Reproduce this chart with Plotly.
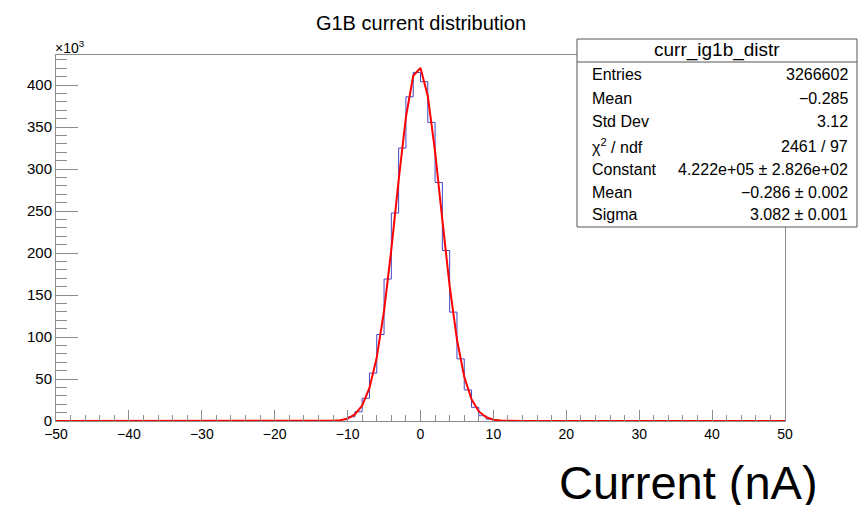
import plotly.graph_objects as go
import numpy as np

# ---- data (counts in units of 10^3, bin width 1 nA) ----
bin_low_edges = [-12, -11, -10, -9, -8, -7, -6, -5, -4, -3, -2, -1,
                 0, 1, 2, 3, 4, 5, 6, 7, 8, 9, 10, 11]
counts_k = [0.3, 1.5, 5.0, 11.0, 27.0, 57.0, 103.0, 169.0, 247.6, 325.0, 386.0, 415.0,
            404.0, 355.5, 284.0, 203.0, 129.6, 74.0, 37.0, 16.3, 6.3, 2.2, 0.6, 0.15]

hist_range = [-50, 50]
stat_labels = ["Entries", "Mean", "Std Dev", "χ<sup>2</sup> / ndf", "Constant", "Mean", "Sigma"]
stat_values = ["3266602", "−0.285", "3.12", "2461 / 97",
               "4.222e+05 ± 2.826e+02", "−0.286 ± 0.002", "3.082 ± 0.001"]
fit_constant = 4.222e+05
fit_mean = -0.286
fit_sigma = 3.082

# ---- build full histogram over range ----
edges = np.arange(hist_range[0], hist_range[1] + 1, 1)
full = np.zeros(len(edges) - 1)
for lo, c in zip(bin_low_edges, counts_k):
    full[int(lo - hist_range[0])] = c
hx = list(edges)
hy = list(full) + [full[-1]]

# fit function sampled like ROOT (npx=100)
fx = np.linspace(hist_range[0], hist_range[1], 101)
fy = fit_constant * np.exp(-0.5 * ((fx - fit_mean) / fit_sigma) ** 2) / 1e3

fig = go.Figure()
fig.add_trace(go.Scatter(x=hx, y=hy, mode="lines", line=dict(color="#4646c4", width=1, shape="hv"),
                         hoverinfo="skip"))
fig.add_trace(go.Scatter(x=fx, y=fy, mode="lines", line=dict(color="#ff0000", width=2),
                         hoverinfo="skip"))

ymax = 1.05 * max(counts_k)
axis_col = "#8c8c8c"
font_family = "Liberation Sans, Arial, sans-serif"

W, H = 859, 505
pl, pr, pt, pb = 56, 74, 55, 84

fig.update_layout(
    width=W, height=H,
    margin=dict(l=pl, r=pr, t=pt, b=pb),
    paper_bgcolor="white", plot_bgcolor="white",
    showlegend=False,
    font=dict(family=font_family, color="black", size=14),
    title=dict(text="G1B current distribution", x=421 / W, xanchor="center",
               y=1 - 23 / H, yanchor="middle", yref="container",
               font=dict(size=20, family=font_family, color="black")),
    xaxis=dict(range=hist_range, showgrid=False, zeroline=False, showline=True, linecolor=axis_col,
               linewidth=1, mirror=True, ticks="inside", ticklen=11, tickcolor=axis_col,
               tickmode="linear", tick0=-50, dtick=10,
               minor=dict(ticks="inside", ticklen=6, dtick=2, tickcolor=axis_col, showgrid=False),
               tickfont=dict(size=14)),
    yaxis=dict(range=[0, ymax], showgrid=False, zeroline=False, showline=True, linecolor=axis_col,
               linewidth=1, mirror=True, ticks="inside", ticklen=22, tickcolor=axis_col,
               tickmode="linear", tick0=0, dtick=50,
               minor=dict(ticks="inside", ticklen=11, dtick=10, tickcolor=axis_col, showgrid=False),
               tickfont=dict(size=15)),
)

def px(x):
    return (x - pl) / (W - pl - pr)
def py(y):
    return 1 - (y - pt) / (H - pt - pb)

# x10^3 exponent label
fig.add_annotation(x=px(53), y=py(47), xref="paper", yref="paper",
                   text="×10<sup>3</sup>", showarrow=False, xanchor="left", yanchor="middle",
                   font=dict(size=14))

# ---- stat box ----
box_l, box_r, box_t, box_b = 577, 857, 39, 227
fig.add_shape(type="rect", xref="paper", yref="paper", x0=px(box_l), x1=px(box_r),
              y0=py(box_b), y1=py(box_t), line=dict(color="#555555", width=1), fillcolor="white",
              layer="above")
fig.add_shape(type="line", xref="paper", yref="paper", x0=px(box_l), x1=px(box_r),
              y0=py(62), y1=py(62), line=dict(color="#555555", width=1), layer="above")
fig.add_annotation(x=px((box_l + box_r) / 2), y=py(50), xref="paper", yref="paper",
                   text="curr_ig1b_distr", showarrow=False, xanchor="center", yanchor="middle",
                   font=dict(size=19))
row_y = [75, 98.3, 121.6, 146, 169.5, 192.7, 214.3]
for lab, val, ry in zip(stat_labels, stat_values, row_y):
    fig.add_annotation(x=px(590), y=py(ry), xref="paper", yref="paper", text=lab,
                       showarrow=False, xanchor="left", yanchor="middle", font=dict(size=16))
    fig.add_annotation(x=px(850), y=py(ry), xref="paper", yref="paper", text=val,
                       showarrow=False, xanchor="right", yanchor="middle", font=dict(size=16))

# big axis title
fig.add_annotation(x=px(688), y=py(482), xref="paper", yref="paper", text="Current (nA)",
                   showarrow=False, xanchor="center", yanchor="middle",
                   font=dict(size=47, family=font_family))

fig.write_html("out.html")
